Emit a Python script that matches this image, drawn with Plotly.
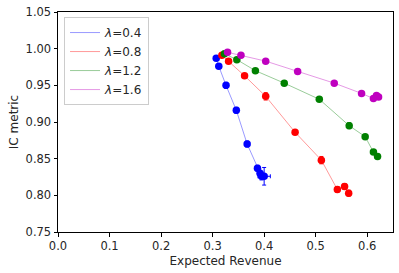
import plotly.graph_objects as go

labels = ["0.4", "0.8", "1.2", "1.6"]
colors = ["#0000ff", "#ff0000", "#008000", "#bf00bf"]
line_colors = ["rgba(0,0,255,0.5)", "rgba(255,0,0,0.5)", "rgba(0,128,0,0.5)", "rgba(191,0,191,0.5)"]

rev_04 = [0.307, 0.312, 0.326, 0.346, 0.367, 0.387, 0.392, 0.395, 0.400]
ic_04 = [0.987, 0.976, 0.950, 0.916, 0.870, 0.837, 0.830, 0.826, 0.826]
ex_04 = [0.002, 0.002, 0.003, 0.003, 0.003, 0.003, 0.003, 0.004, 0.012]
ey_04 = [0.002, 0.002, 0.004, 0.004, 0.004, 0.004, 0.004, 0.005, 0.012]

rev_08 = [0.318, 0.331, 0.362, 0.403, 0.460, 0.511, 0.542, 0.556, 0.564]
ic_08 = [0.991, 0.983, 0.963, 0.935, 0.886, 0.848, 0.808, 0.812, 0.803]
ex_08 = [0.002, 0.002, 0.002, 0.003, 0.003, 0.003, 0.003, 0.003, 0.003]
ey_08 = [0.002, 0.003, 0.003, 0.005, 0.003, 0.005, 0.004, 0.004, 0.004]

rev_12 = [0.323, 0.347, 0.383, 0.439, 0.507, 0.565, 0.596, 0.612, 0.620]
ic_12 = [0.993, 0.985, 0.970, 0.953, 0.931, 0.895, 0.880, 0.859, 0.853]
ex_12 = [0.002, 0.002, 0.002, 0.002, 0.002, 0.003, 0.003, 0.003, 0.003]
ey_12 = [0.002, 0.003, 0.003, 0.003, 0.003, 0.004, 0.003, 0.003, 0.003]

rev_16 = [0.329, 0.355, 0.403, 0.465, 0.536, 0.589, 0.612, 0.618, 0.622]
ic_16 = [0.995, 0.991, 0.983, 0.969, 0.953, 0.939, 0.932, 0.936, 0.934]
ex_16 = [0.002, 0.002, 0.002, 0.002, 0.002, 0.002, 0.002, 0.002, 0.002]
ey_16 = [0.002, 0.002, 0.002, 0.002, 0.002, 0.002, 0.002, 0.002, 0.002]

series = [
    (rev_04, ic_04, ex_04, ey_04),
    (rev_08, ic_08, ex_08, ey_08),
    (rev_12, ic_12, ex_12, ey_12),
    (rev_16, ic_16, ex_16, ey_16),
]

font_family = "DejaVu Sans"
fig = go.Figure()
for (xs, ys, exs, eys), lab, c, lc in zip(series, labels, colors, line_colors):
    fig.add_trace(go.Scatter(
        x=xs, y=ys, mode="lines", line=dict(color=lc, width=0.8),
        name=f"<i>λ</i>={lab}", showlegend=True))
for (xs, ys, exs, eys), lab, c, lc in zip(series, labels, colors, line_colors):
    fig.add_trace(go.Scatter(
        x=xs, y=ys, mode="markers", showlegend=False,
        marker=dict(color=c, size=7.5, line=dict(width=0)),
        error_x=dict(type="data", array=exs, color=c, thickness=1, width=2),
        error_y=dict(type="data", array=eys, color=c, thickness=1, width=2)))

axis_common = dict(
    showgrid=False, zeroline=False, showline=True, linecolor="black", linewidth=1,
    mirror=True, ticks="outside", ticklen=3.5, tickwidth=1, tickcolor="black",
    tickfont=dict(family=font_family, size=11.5, color="#262626"), automargin=False,
)
fig.update_xaxes(range=[0, 0.65], tickvals=[0, 0.1, 0.2, 0.3, 0.4, 0.5, 0.6],
                 ticktext=["0.0", "0.1", "0.2", "0.3", "0.4", "0.5", "0.6"],
                 title=dict(text="Expected Revenue", font=dict(family=font_family, size=12, color="#262626"), standoff=4),
                 **axis_common)
fig.update_yaxes(range=[0.75, 1.05], tickvals=[0.75, 0.80, 0.85, 0.90, 0.95, 1.00, 1.05],
                 ticktext=["0.75", "0.80", "0.85", "0.90", "0.95", "1.00", "1.05"],
                 title=dict(text="IC metric", font=dict(family=font_family, size=12, color="#262626"), standoff=4),
                 **axis_common)
fig.update_layout(
    width=399, height=273,
    margin=dict(l=58, r=6, t=12, b=41),
    plot_bgcolor="white", paper_bgcolor="white",
    font=dict(family=font_family, size=11, color="#262626"),
    legend=dict(x=0.018, y=0.977, xanchor="left", yanchor="top",
                bgcolor="rgba(255,255,255,0.8)", bordercolor="#cccccc", borderwidth=1,
                font=dict(family=font_family, size=12, color="#262626"),
                itemwidth=30, tracegroupgap=0),
)
fig.write_html("out.html", config={"displayModeBar": False},
               post_script="document.body.style.margin='0';document.body.style.overflow='hidden';")
